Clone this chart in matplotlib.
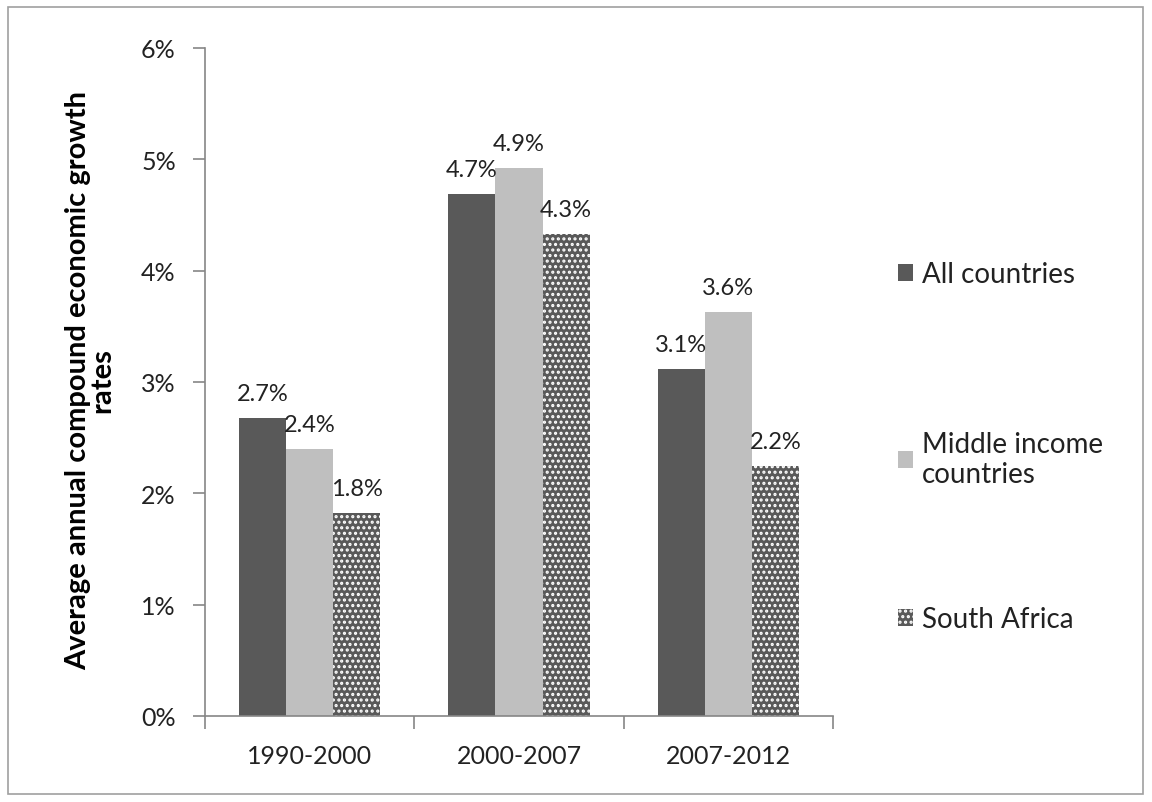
import matplotlib
matplotlib.use("Agg")
import matplotlib.pyplot as plt
from matplotlib.patches import Rectangle, Patch
import numpy as np

periods = ["1990-2000", "2000-2007", "2007-2012"]
series_names = ["All countries", "Middle income\ncountries", "South Africa"]
all_countries = [2.68, 4.69, 3.12]
middle_income = [2.40, 4.92, 3.63]
south_africa = [1.82, 4.33, 2.25]
y_ticks = [0, 1, 2, 3, 4, 5, 6]

plt.rcParams['font.family'] = ['Lato', 'DejaVu Sans']
plt.rcParams['hatch.linewidth'] = 1.5

fig = plt.figure(figsize=(11.52, 8.03), dpi=100)
W, H = 1152, 803
ax = fig.add_axes([205 / W, 1 - 717 / H, (833 - 205) / W, (717 - 49) / H])

x = np.arange(len(periods))
bw = 0.225
cols = ["#595959", "#BFBFBF", "#595959"]
data = [all_countries, middle_income, south_africa]
for i, vals in enumerate(data):
    pos = x + (i - 1) * bw
    if i == 2:
        ax.bar(pos, vals, bw, facecolor=cols[i], edgecolor="white", linewidth=0, hatch="...")
    else:
        ax.bar(pos, vals, bw, color=cols[i], linewidth=0)
    for p, v in zip(pos, vals):
        ax.annotate(f"{v:.1f}%", (p, v), xytext=(0, 10), textcoords="offset points",
                    ha="center", va="bottom", fontsize=17, color="#222222")

ax.set_xlim(-0.5, 2.5)
ax.set_ylim(0, 6)
ax.set_yticks(y_ticks)
ax.set_yticklabels([f"{t}%" for t in y_ticks], fontsize=18, color="#222222")
ax.set_xticks(x)
ax.set_xticklabels(periods, fontsize=18, color="#222222")
ax.set_xticks([-0.5, 0.5, 1.5, 2.5], minor=True)
ax.tick_params(axis="x", which="major", length=0, pad=20)
ax.tick_params(axis="x", which="minor", length=9, color="#868686", width=1.2)
ax.tick_params(axis="y", length=9, color="#868686", width=1.2, pad=12)
for s in ["top", "right"]:
    ax.spines[s].set_visible(False)
for s in ["left", "bottom"]:
    ax.spines[s].set_color("#868686")
    ax.spines[s].set_linewidth(1.2)

fig.text(90 / W, 1 - 381 / H, "Average annual compound economic growth\nrates",
         rotation=90, ha="center", va="center", fontsize=21, fontweight="bold",
         linespacing=0.9)

# legend entries
leg_y = [275, 460, 620]
for name, col, hy, hatch in zip(series_names, cols, leg_y, [None, None, "..."]):
    if hatch:
        h = Patch(facecolor=col, edgecolor="white", linewidth=0, hatch=hatch)
    else:
        h = Patch(facecolor=col, linewidth=0)
    fig.legend([h], [name], loc="center left", bbox_to_anchor=(898 / W, 1 - hy / H),
               frameon=False, fontsize=20, handlelength=0.55, handleheight=0.55,
               handletextpad=0.3, borderaxespad=0, borderpad=0, labelcolor="#222222")

fig.patches.append(Rectangle((8 / W, 8 / H), (1143 - 8) / W, (795 - 8) / H,
                             transform=fig.transFigure, fill=False,
                             edgecolor="#A0A0A0", linewidth=1.2))

fig.savefig("out.png", dpi=100)
